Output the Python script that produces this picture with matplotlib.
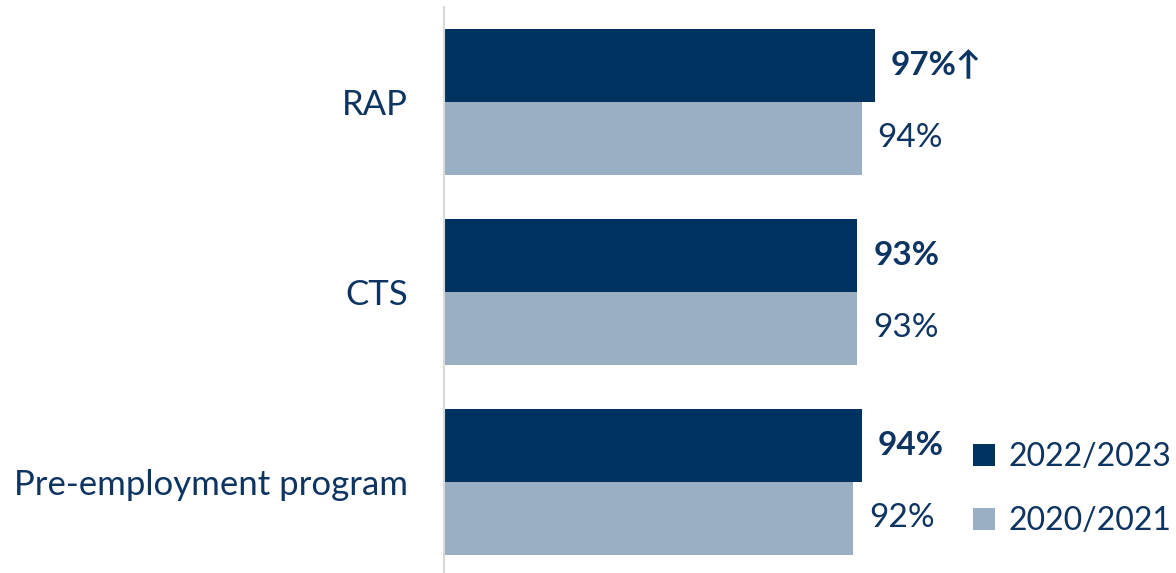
import matplotlib.pyplot as plt
import numpy as np

# Data
programs = ['RAP', 'CTS', 'Pre-employment program']
vals_2223 = [97, 93, 94]
vals_2021 = [94, 93, 92]
labels_2223 = ['97%\u2191', '93%', '94%']
labels_2021 = ['94%', '93%', '92%']
series_names = ['2022/2023', '2020/2021']

dark = '#00325F'
light = '#9AAEC4'
text_col = '#0E3461'
fam = ['Lato', 'DejaVu Sans']

fig = plt.figure(figsize=(11.76, 5.73), dpi=100)
ax = fig.add_axes([444 / 1176, 0, 1 - 444 / 1176, (573 - 7) / 573])

y = np.arange(len(programs))
h = 73 / 190

ax.barh(y - h / 2, vals_2223, height=h, color=dark, label=series_names[0])
ax.barh(y + h / 2, vals_2021, height=h, color=light, label=series_names[1])

for i in range(len(programs)):
    ax.text(vals_2223[i] + 3.6, y[i] - h / 2, labels_2223[i], va='center', ha='left',
            fontsize=24, fontweight='bold', color=text_col, family=fam)
    ax.text(vals_2021[i] + 3.6, y[i] + h / 2, labels_2021[i], va='center', ha='left',
            fontsize=24, color=text_col, family=fam)

ax.set_xlim(0, 732 / 4.443)
ax.set_ylim(2.48, -0.498)
ax.set_yticks(y)
ax.set_yticklabels(programs, fontsize=25, color=text_col, family=fam)
ax.tick_params(axis='y', length=0, pad=26)
ax.set_xticks([])

for s in ['top', 'right', 'bottom']:
    ax.spines[s].set_visible(False)
ax.spines['left'].set_color('#D9D9D9')
ax.spines['left'].set_linewidth(1.5)

leg = fig.legend(loc='upper left', bbox_to_anchor=(973 / 1176, 1 - 442 / 573),
                 bbox_transform=fig.transFigure, frameon=False,
                 prop={'family': fam, 'size': 23}, handlelength=0.7, handleheight=0.7,
                 handletextpad=0.4, labelspacing=1.07, borderaxespad=0, borderpad=0)
for t in leg.get_texts():
    t.set_color(text_col)

fig.savefig('out.png', dpi=100)
